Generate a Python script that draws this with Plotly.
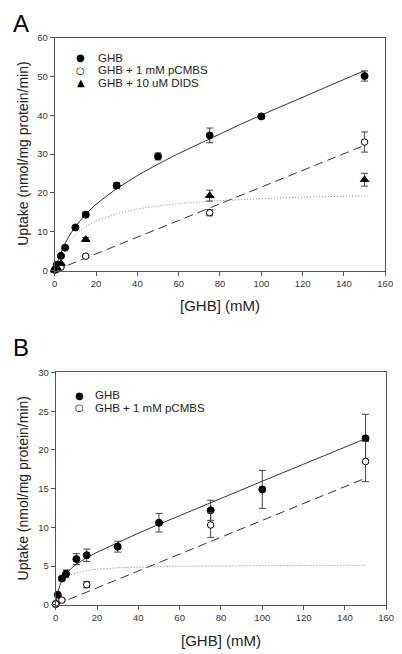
import plotly.graph_objects as go

# ---------------- Data ----------------
# Panel A
a_ghb_x = [0, 1, 3, 5, 10, 15, 30, 50, 75, 100, 150]
a_ghb_y = [0.2, 1.5, 3.8, 5.9, 11.1, 14.4, 21.9, 29.4, 34.8, 39.7, 50.1]
a_ghb_err = [0.1, 0.2, 0.3, 0.3, 0.4, 0.6, 0.8, 0.9, 1.9, 0.6, 1.3]

a_pcmbs_x = [0, 1, 3, 15, 75, 150]
a_pcmbs_y = [0.1, 0.4, 0.9, 3.7, 14.9, 33.1]
a_pcmbs_err = [0.0, 0.1, 0.2, 0.3, 0.8, 2.6]

a_dids_x = [0, 1, 3, 15, 75, 150]
a_dids_y = [0.1, 0.8, 1.8, 8.0, 19.3, 23.4]
a_dids_err = [0.0, 0.1, 0.2, 0.5, 1.4, 1.65]

curve_x = [0, 1, 2, 3, 5, 7.5, 10, 15, 20, 30, 40, 50, 60, 75, 90, 100, 120, 150]
a_fit_total = [0, 1.75, 3.27, 4.64, 6.98, 9.37, 11.36, 14.55, 17.08, 21.13, 24.46,
               27.42, 30.15, 34.0, 37.67, 40.04, 44.7, 51.5]
a_fit_linear = [0, 0.22, 0.43, 0.65, 1.08, 1.61, 2.15, 3.23, 4.3, 6.45, 8.6,
                10.75, 12.9, 16.13, 19.35, 21.5, 25.8, 32.25]
dot_x = [7.5, 10, 15, 20, 30, 40, 50, 60, 75, 90, 100, 120, 150]
a_fit_mm = [7.76, 9.21, 11.32, 12.78, 14.68, 15.86, 16.67, 17.25, 17.87, 18.32,
            18.54, 18.90, 19.27]

# Panel B
b_ghb_x = [0, 1, 3, 5, 10, 15, 30, 50, 75, 100, 150]
b_ghb_y = [0.1, 1.3, 3.4, 4.0, 5.9, 6.4, 7.5, 10.6, 12.2, 14.9, 21.5]
b_ghb_err = [0.1, 0.2, 0.2, 0.5, 0.7, 0.8, 0.7, 1.2, 1.3, 2.45, 3.1]

b_pcmbs_x = [0, 3, 15, 75, 150]
b_pcmbs_y = [0.1, 0.6, 2.6, 10.3, 18.5]
b_pcmbs_err = [0.0, 0.1, 0.4, 1.6, 2.6]

b_fit_total = [0, 1.57, 2.50, 3.14, 3.99, 4.69, 5.23, 6.08, 6.78, 8.05, 9.24,
               10.39, 11.52, 13.20, 14.86, 15.96, 18.16, 21.45]
b_fit_linear = [0, 0.11, 0.22, 0.33, 0.55, 0.82, 1.09, 1.64, 2.18, 3.27, 4.36,
                5.45, 6.54, 8.18, 9.81, 10.9, 13.08, 16.35]
b_fit_mm = [3.87, 4.14, 4.44, 4.60, 4.78, 4.88, 4.94, 4.98, 5.02, 5.05, 5.06,
            5.08, 5.10]

x_ticks = [0, 20, 40, 60, 80, 100, 120, 140, 160]
a_y_ticks = [0, 10, 20, 30, 40, 50, 60]
b_y_ticks = [0, 5, 10, 15, 20, 25, 30]

a_legend_labels = ["GHB", "GHB + 1 mM pCMBS", "GHB + 10 uM DIDS"]
b_legend_labels = ["GHB", "GHB + 1 mM pCMBS"]

# ---------------- Figure ----------------
# page body has an 8px margin, so the figure is drawn 8px in from the window edge
OFF = 8
W, H = 402 - OFF, 654 - OFF
FONT = "Liberation Sans, Arial, sans-serif"
fig = go.Figure()

ERR_COLOR = "#444444"
LINE_COLOR = "#333333"


def px_x(p):
    return (p - OFF) / W


def px_y(p):
    return 1 - (p - OFF) / H


def err(vals):
    return dict(type="data", array=vals, visible=True, color=ERR_COLOR,
                thickness=1, width=3.5)


def fit_traces(xa, ya, total, linear, mm):
    fig.add_trace(go.Scatter(x=curve_x, y=total, mode="lines", xaxis=xa, yaxis=ya,
                             line=dict(color=LINE_COLOR, width=1), showlegend=False,
                             hoverinfo="skip"))
    fig.add_trace(go.Scatter(x=curve_x, y=linear, mode="lines", xaxis=xa, yaxis=ya,
                             line=dict(color=LINE_COLOR, width=1, dash="9px,5px"),
                             showlegend=False, hoverinfo="skip"))
    fig.add_trace(go.Scatter(x=dot_x, y=mm, mode="lines", xaxis=xa, yaxis=ya,
                             line=dict(color="#808080", width=1, dash="1px,2px"),
                             showlegend=False, hoverinfo="skip"))


fit_traces("x", "y", a_fit_total, a_fit_linear, a_fit_mm)
fit_traces("x2", "y2", b_fit_total, b_fit_linear, b_fit_mm)

filled = dict(symbol="circle", size=7, color="black", line=dict(color="black", width=1))
opened = dict(symbol="circle", size=6.5, color="white", line=dict(color="black", width=1))
tri = dict(symbol="triangle-up", size=7.5, color="black", line=dict(color="black", width=1))

# Panel A markers
fig.add_trace(go.Scatter(x=a_ghb_x, y=a_ghb_y, error_y=err(a_ghb_err), mode="markers",
                         marker=filled, name=a_legend_labels[0], showlegend=False,
                         cliponaxis=False))
fig.add_trace(go.Scatter(x=a_pcmbs_x, y=a_pcmbs_y, error_y=err(a_pcmbs_err), mode="markers",
                         marker=opened, name=a_legend_labels[1], showlegend=False,
                         cliponaxis=False))
fig.add_trace(go.Scatter(x=a_dids_x, y=a_dids_y, error_y=err(a_dids_err), mode="markers",
                         marker=tri, name=a_legend_labels[2], showlegend=False,
                         cliponaxis=False))

# Panel B markers
fig.add_trace(go.Scatter(x=b_ghb_x, y=b_ghb_y, error_y=err(b_ghb_err), mode="markers",
                         marker=filled, name=b_legend_labels[0], xaxis="x2", yaxis="y2",
                         showlegend=False, cliponaxis=False))
fig.add_trace(go.Scatter(x=b_pcmbs_x, y=b_pcmbs_y, error_y=err(b_pcmbs_err), mode="markers",
                         marker=opened, name=b_legend_labels[1], xaxis="x2", yaxis="y2",
                         showlegend=False, cliponaxis=False))

axis_common = dict(showline=True, linecolor="#555555", linewidth=1, mirror=True,
                   ticks="outside", ticklen=4, tickwidth=1, tickcolor="#555555",
                   showgrid=False, zeroline=False,
                   tickfont=dict(family=FONT, size=9.5, color="#333333"))

fig.update_layout(
    width=W, height=H,
    margin=dict(l=0, r=0, t=0, b=0),
    paper_bgcolor="white", plot_bgcolor="white",
    font=dict(family=FONT, color="#222222"),
    showlegend=False,
    xaxis=dict(domain=[px_x(53), px_x(393)], range=[0, 160], tickvals=x_ticks,
               anchor="y", **axis_common),
    yaxis=dict(domain=[px_y(269), px_y(32)], range=[0, 60], tickvals=a_y_ticks,
               anchor="x", **axis_common),
    xaxis2=dict(domain=[px_x(54), px_x(394)], range=[0, 160], tickvals=x_ticks,
                anchor="y2", **axis_common),
    yaxis2=dict(domain=[px_y(609), px_y(372.7)], range=[0, 30], tickvals=b_y_ticks,
                anchor="x2", **axis_common),
)

annots = [
    dict(text="A", x=px_x(8), y=px_y(2), xanchor="left", yanchor="top",
         font=dict(family=FONT, size=24, color="black")),
    dict(text="B", x=px_x(8), y=px_y(332), xanchor="left", yanchor="top",
         font=dict(family=FONT, size=24, color="black")),
    dict(text="Uptake (nmol/mg protein/min)", x=px_x(20), y=px_y(150.5), textangle=-90,
         xanchor="center", yanchor="middle", font=dict(family=FONT, size=14, color="#222222")),
    dict(text="Uptake (nmol/mg protein/min)", x=px_x(20), y=px_y(491), textangle=-90,
         xanchor="center", yanchor="middle", font=dict(family=FONT, size=14, color="#222222")),
    dict(text="[GHB] (mM)", x=px_x(223), y=px_y(305), xanchor="center", yanchor="middle",
         font=dict(family=FONT, size=15, color="#222222")),
    dict(text="[GHB] (mM)", x=px_x(224), y=px_y(645), xanchor="center", yanchor="middle",
         font=dict(family=FONT, size=15, color="#222222")),
]

# legend drawn as text rows (symbol glyph + label)
legend_sym_a = ["●", "○", "▲"]
legend_sym_b = ["●", "○"]
for i, (s, lab) in enumerate(zip(legend_sym_a, a_legend_labels)):
    yy = 52.7 + 12.5 * i
    annots.append(dict(text=s, x=px_x(80), y=px_y(yy), xanchor="center", yanchor="middle",
                       font=dict(family="DejaVu Sans", size=10, color="black")))
    annots.append(dict(text=lab, x=px_x(95), y=px_y(yy), xanchor="left", yanchor="middle",
                       font=dict(family=FONT, size=11.5, color="#222222")))
for i, (s, lab) in enumerate(zip(legend_sym_b, b_legend_labels)):
    yy = 395.7 + 13 * i
    annots.append(dict(text=s, x=px_x(78), y=px_y(yy), xanchor="center", yanchor="middle",
                       font=dict(family="DejaVu Sans", size=10, color="black")))
    annots.append(dict(text=lab, x=px_x(92), y=px_y(yy), xanchor="left", yanchor="middle",
                       font=dict(family=FONT, size=11.5, color="#222222")))

for a in annots:
    a.update(xref="paper", yref="paper", showarrow=False)
fig.update_layout(annotations=annots)

fig.write_html("out.html")
